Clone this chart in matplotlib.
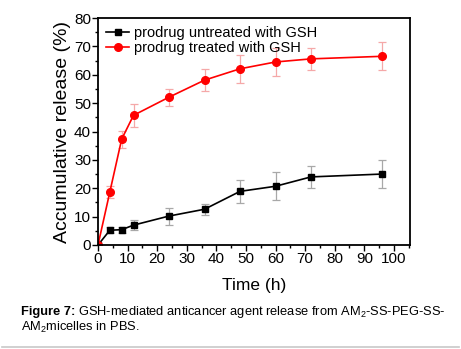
import matplotlib
matplotlib.use('Agg')
import matplotlib.pyplot as plt
from matplotlib.ticker import MultipleLocator
from matplotlib.lines import Line2D

plt.rcParams['font.family'] = ['Liberation Sans', 'DejaVu Sans']
plt.rcParams['mathtext.fontset'] = 'custom'
plt.rcParams['mathtext.rm'] = 'Liberation Sans'
plt.rcParams['mathtext.bf'] = 'Liberation Sans:bold'

time_h = [0, 4, 8, 12, 24, 36, 48, 60, 72, 96]
untreated = [0, 5.2, 5.4, 7.0, 10.2, 12.6, 18.9, 20.7, 24.0, 25.0]
untreated_err = [0, 1.0, 1.0, 1.8, 3.0, 2.0, 4.0, 5.0, 4.0, 5.0]
treated = [0, 18.7, 37.3, 45.7, 52.1, 58.1, 62.1, 64.5, 65.6, 66.5]
treated_err = [0, 2.0, 3.0, 4.0, 3.0, 4.0, 5.0, 5.0, 4.0, 5.0]

fig = plt.figure(figsize=(4.61, 3.49), dpi=100)
ax = fig.add_axes([0.2126, 0.298, 0.889 - 0.2126, 0.9484 - 0.298])

# error bars drawn faint, lines + markers on top
ax.errorbar(time_h, untreated, yerr=untreated_err, fmt='none', ecolor='#a8a8a8',
            elinewidth=0.9, capsize=3, capthick=0.9)
ax.errorbar(time_h, treated, yerr=treated_err, fmt='none', ecolor='#f5a8a8',
            elinewidth=0.9, capsize=3, capthick=0.9)
ax.plot(time_h, untreated, color='black', marker='s', markersize=5, linewidth=1.2)
ax.plot(time_h, treated, color='#ff0000', marker='o', markersize=5.5, linewidth=1.2)

ax.set_xlim(0, 105.4)
ax.set_ylim(0, 80)
ax.xaxis.set_major_locator(MultipleLocator(10))
ax.xaxis.set_minor_locator(MultipleLocator(5))
ax.yaxis.set_major_locator(MultipleLocator(10))
ax.yaxis.set_minor_locator(MultipleLocator(5))
ax.tick_params(which='major', direction='out', length=4, width=1, labelsize=11, pad=1)
ax.tick_params(which='minor', direction='out', length=2, width=1)
for s in ax.spines.values():
    s.set_linewidth(1.3)

ax.set_xlabel('Time (h)', fontsize=12.5, labelpad=9)
ax.set_ylabel('Accumulative release (%)', fontsize=14, labelpad=2)

handles = [Line2D([], [], color='black', marker='s', markersize=5, linewidth=1.2),
           Line2D([], [], color='#ff0000', marker='o', markersize=5.5, linewidth=1.2)]
ax.legend(handles, ['prodrug untreated with GSH', 'prodrug treated with GSH'],
          loc='upper left', frameon=False, fontsize=10.5, handlelength=1.6,
          handletextpad=0.35, borderaxespad=0.15, labelspacing=0.1)

# caption: bold prefix, then the rest placed right after it
cap_y1 = 1 - 315 / 349
cap_y2 = 1 - 331 / 349
bold = fig.text(0.045, cap_y1, 'Figure 7:', fontsize=9.3, fontweight='bold',
                va='baseline', ha='left')
fig.canvas.draw()
bb = bold.get_window_extent().transformed(fig.transFigure.inverted())
fig.text(bb.x1 + 0.006, cap_y1,
         r'GSH-mediated anticancer agent release from AM$_2$-SS-PEG-SS-',
         fontsize=9.3, va='baseline', ha='left')
fig.text(0.045, cap_y2, r'AM$_2$micelles in PBS.', fontsize=9.3, va='baseline', ha='left')

fig.add_artist(Line2D([0.005, 0.995], [1 - 346.5 / 349] * 2, color='#c8c8c8',
                      linewidth=1.2, transform=fig.transFigure))

fig.savefig('out.png', dpi=100)
